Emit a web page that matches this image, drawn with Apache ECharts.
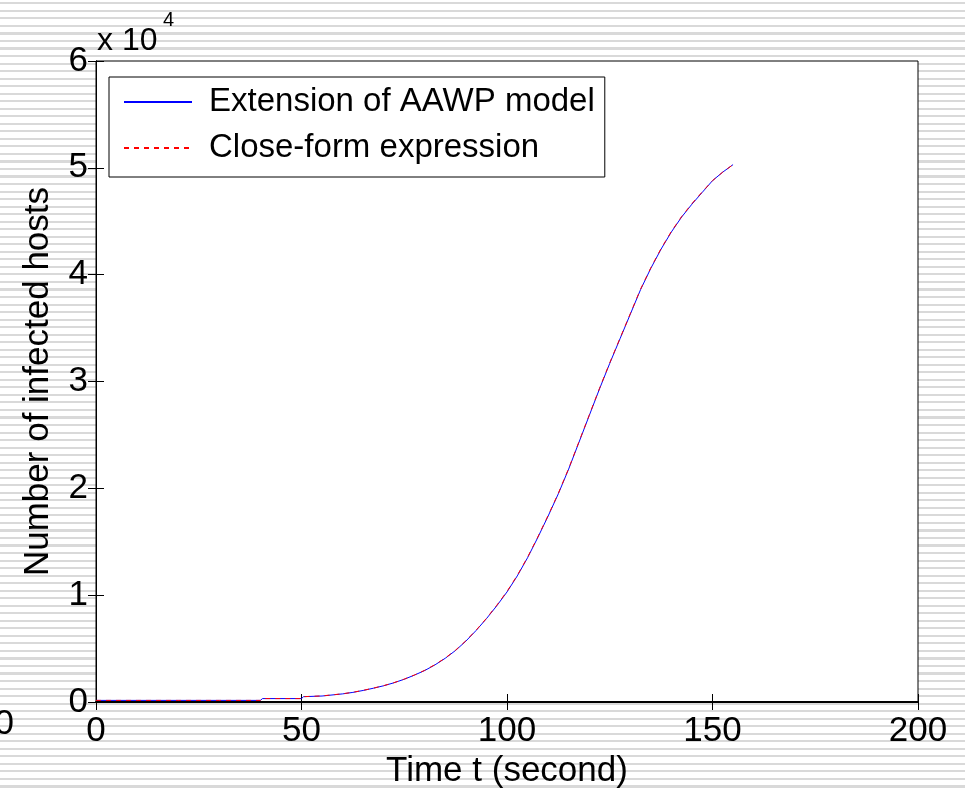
<!DOCTYPE html>
<html>
<head>
<meta charset="utf-8">
<script src="https://cdn.jsdelivr.net/npm/echarts@6/dist/echarts.min.js"></script>
<style>
  html, body { margin:0; padding:0; }
  body {
    width:965px; height:790px; overflow:hidden;
    background: repeating-linear-gradient(180deg, #ffffff 0px, #ffffff 2.3px, #d9d9d9 2.3px, #d9d9d9 4.4px, #ffffff 4.4px, #ffffff 7.53px);
  }
  #chart { width:965px; height:790px; }
</style>
</head>
<body>
<div id="chart"></div>
<script>
// ---- data ----
const tValues = [0, 10, 20, 30, 40, 40.5, 50, 50.5, 55, 60, 62.5, 65, 67.5, 70, 72.5, 75, 77.5, 80, 82.5, 85, 87.5, 90, 92.5, 95, 97.5, 100, 102.5, 105, 107.5, 110, 112.5, 115, 117.5, 120, 122.5, 125, 127.5, 130, 132.5, 135, 137.5, 140, 142.5, 145, 147.5, 150, 152.5, 155];
const aawpValues = [150, 150, 150, 150, 150, 320, 320, 500, 560, 760, 900, 1080, 1290, 1520, 1800, 2130, 2520, 2950, 3480, 4100, 4830, 5700, 6700, 7800, 9000, 10300, 11800, 13500, 15400, 17400, 19500, 21800, 24300, 26800, 29300, 31700, 34000, 36300, 38600, 40600, 42400, 44000, 45400, 46600, 47700, 48800, 49600, 50300];
const closeFormValues = [150, 150, 150, 150, 150, 320, 320, 500, 570, 770, 910, 1090, 1300, 1530, 1810, 2140, 2530, 2970, 3500, 4120, 4860, 5730, 6730, 7830, 9050, 10350, 11850, 13550, 15450, 17450, 19550, 21850, 24350, 26850, 29350, 31750, 34050, 36350, 38650, 40650, 42450, 44050, 45450, 46650, 47750, 48800, 49600, 50300];
const seriesNames = ['Extension of AAWP model', 'Close-form expression'];
const xTicks = [0, 50, 100, 150, 200];
const yTicks = [0, 1, 2, 3, 4, 5, 6]; // x 10^4

const FONT = '"Liberation Sans", Arial, Helvetica, sans-serif';
const chart = echarts.init(document.getElementById('chart'), null, { renderer: 'canvas' });

const pairs = (xs, ys) => xs.map((x, i) => [x, ys[i]]);

const tickCommon = { show: true, inside: true, length: 8, lineStyle: { color: '#000', width: 1 } };

const option = {
  backgroundColor: 'transparent',
  animation: false,
  textStyle: { fontFamily: FONT },
  grid: {
    left: 96, right: 47, top: 61, bottom: 88,
    outerBoundsMode: 'none', containLabel: false,
    show: true, backgroundColor: '#ffffff', borderColor: '#000', borderWidth: 1
  },
  legend: {
    data: seriesNames,
    left: 109, top: 77,
    orient: 'vertical',
    backgroundColor: '#ffffff',
    borderColor: '#000', borderWidth: 1,
    padding: [7, 10, 11, 14],
    itemWidth: 68, itemHeight: 14, itemGap: 10,
    itemStyle: { opacity: 0 },
    textStyle: { fontFamily: FONT, fontSize: 33, lineHeight: 36, color: '#000', padding: [0, 0, 0, 12] }
  },
  xAxis: [{
    type: 'value', min: xTicks[0], max: xTicks[xTicks.length - 1], interval: 50,
    position: 'bottom',
    name: 'Time t (second)', nameLocation: 'middle', nameGap: 50,
    nameTextStyle: { fontFamily: FONT, fontSize: 35, color: '#000' },
    axisLine: { show: true, lineStyle: { color: '#000', width: 2 } },
    axisTick: tickCommon,
    axisLabel: { fontFamily: FONT, fontSize: 35, color: '#000', margin: 12 },
    splitLine: { show: false }
  }, {
    type: 'value', min: 0, max: 200, interval: 50, position: 'top',
    axisLine: { show: true, lineStyle: { color: '#000', width: 1 } },
    axisTick: tickCommon, axisLabel: { show: false }, splitLine: { show: false }
  }],
  yAxis: [{
    type: 'value', min: 0, max: 60000, interval: 10000, position: 'left',
    name: 'Number of infected hosts', nameLocation: 'middle', nameGap: 40, nameRotate: 90,
    nameTextStyle: { fontFamily: FONT, fontSize: 35, color: '#000' },
    axisLine: { show: true, lineStyle: { color: '#000', width: 1 } },
    axisTick: tickCommon,
    axisLabel: { fontFamily: FONT, fontSize: 35, color: '#000', margin: 8,
      formatter: v => String(yTicks[Math.round(v / 10000)]) },
    splitLine: { show: false }
  }, {
    type: 'value', min: 0, max: 60000, interval: 10000, position: 'right',
    axisLine: { show: true, lineStyle: { color: '#000', width: 1 } },
    axisTick: tickCommon, axisLabel: { show: false }, splitLine: { show: false }
  }],
  graphic: [
    { type: 'text', left: 97, top: 25, style: { text: 'x 10', font: '32px ' + FONT, fill: '#000' } },
    { type: 'text', left: 163, top: 10, style: { text: '4', font: '20px ' + FONT, fill: '#000' } },
    { type: 'text', right: 951, top: 707, style: { text: '0', font: '35px ' + FONT, fill: '#000' } }
  ],
  series: [{
    name: seriesNames[0], type: 'line', symbol: 'none', showSymbol: false,
    data: pairs(tValues, aawpValues),
    lineStyle: { color: '#0000ff', width: 1, type: 'solid' },
    itemStyle: { color: '#0000ff' }, z: 2
  }, {
    name: seriesNames[1], type: 'line', symbol: 'none', showSymbol: false,
    data: pairs(tValues, closeFormValues),
    lineStyle: { color: '#ff0000', width: 1, type: [5, 5] },
    itemStyle: { color: '#ff0000' }, z: 3
  }]
};
chart.setOption(option);
</script>
</body>
</html>
